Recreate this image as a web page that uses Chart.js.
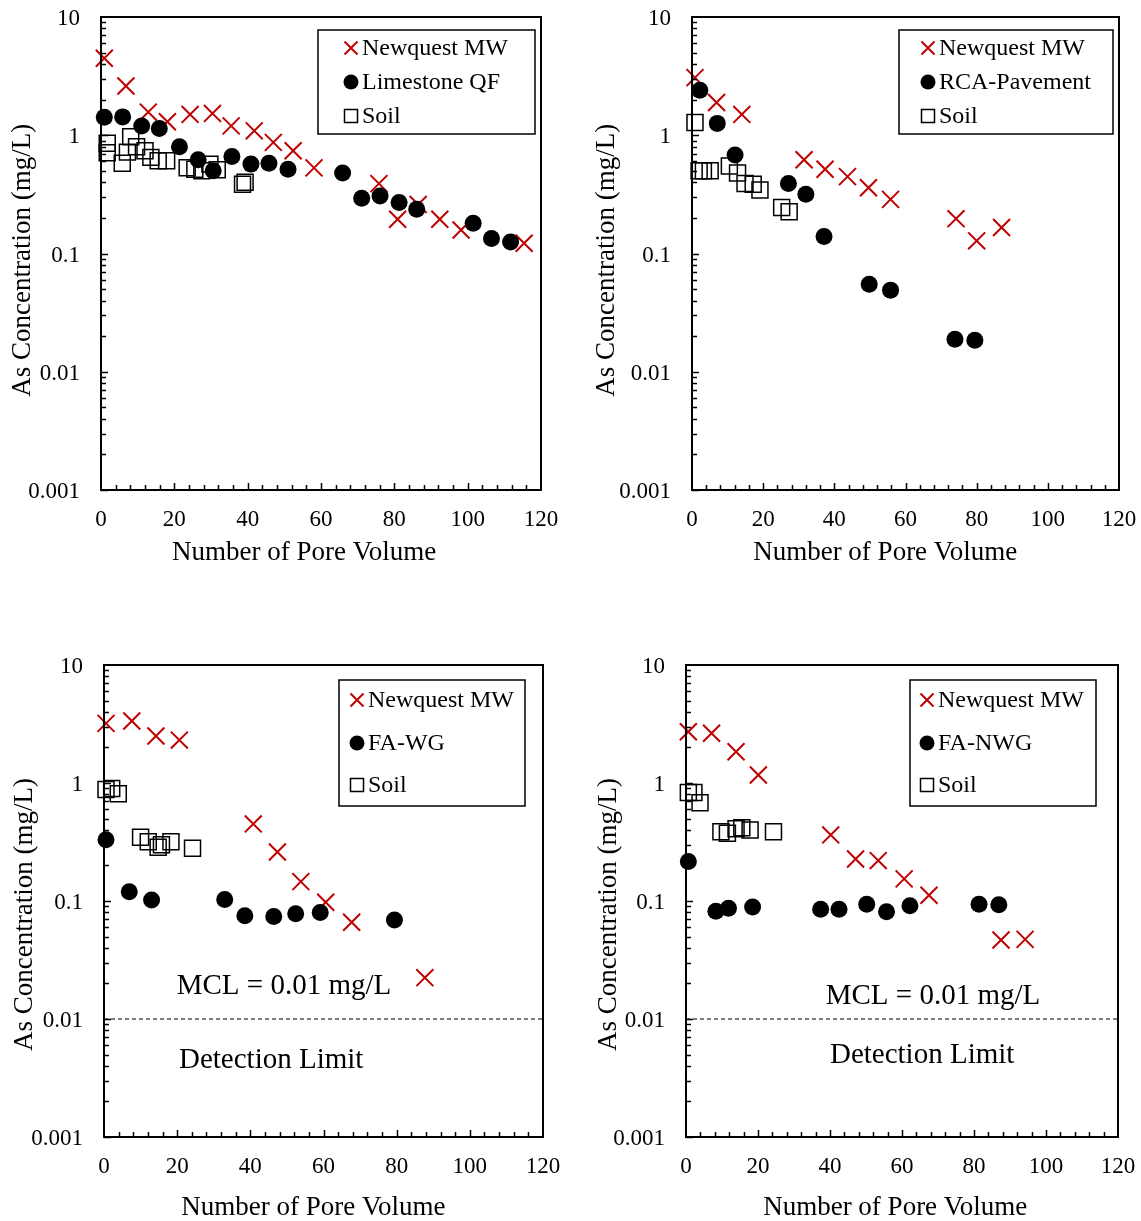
<!DOCTYPE html>
<html>
<head>
<meta charset="utf-8">
<script src="https://cdn.jsdelivr.net/npm/chart.js@4.4.1/dist/chart.umd.min.js"></script>
<style>
  body { margin: 0; background: #fff; width: 1141px; height: 1221px; position: relative; overflow: hidden; }
  canvas { position: absolute; }
</style>
</head>
<body>
<canvas id="pA" width="570" height="580" style="left:0;top:0"></canvas>
<canvas id="pB" width="557" height="580" style="left:584px;top:0"></canvas>
<canvas id="pC" width="570" height="581" style="left:0;top:640px"></canvas>
<canvas id="pD" width="557" height="581" style="left:584px;top:640px"></canvas>
<script>
// [pore volume, As mg/L] pairs for each column
var mwA = [[0.9, 4.48], [6.8, 2.61], [12.9, 1.57], [18.1, 1.30], [24.3, 1.50], [30.4, 1.53], [35.5, 1.20], [41.8, 1.09], [47.0, 0.87], [52.4, 0.74], [58.1, 0.53], [75.8, 0.39], [80.9, 0.195], [86.5, 0.26], [92.4, 0.195], [98.2, 0.158], [115.4, 0.122]];
var limestone = [[0.9, 1.42], [5.9, 1.43], [11.1, 1.20], [15.9, 1.14], [21.4, 0.80], [26.5, 0.62], [30.6, 0.50], [35.7, 0.66], [40.9, 0.57], [45.8, 0.58], [51.0, 0.516], [65.9, 0.48], [71.1, 0.293], [76.1, 0.307], [81.3, 0.27], [86.1, 0.237], [101.5, 0.18], [106.5, 0.134], [111.7, 0.125]];
var soilA = [[1.7, 0.855], [8.1, 0.97], [1.7, 0.71], [5.8, 0.58], [7.2, 0.72], [9.7, 0.80], [12.0, 0.74], [13.6, 0.65], [15.6, 0.61], [17.9, 0.61], [23.5, 0.53], [25.6, 0.516], [27.5, 0.50], [29.7, 0.57], [31.7, 0.51], [38.6, 0.385], [39.3, 0.40]];

var mwB = [[0.84, 3.07], [6.9, 1.89], [14.0, 1.50], [31.5, 0.62], [37.4, 0.516], [43.7, 0.447], [49.6, 0.36], [55.8, 0.287], [74.2, 0.197], [80.0, 0.128], [87.0, 0.166]];
var rca = [[2.2, 2.40], [7.1, 1.26], [12.1, 0.68], [27.1, 0.39], [32.0, 0.317], [37.1, 0.139], [49.8, 0.055], [55.8, 0.049], [73.9, 0.0188], [79.5, 0.0185]];
var soilB = [[0.84, 1.28], [2.0, 0.50], [3.2, 0.50], [5.1, 0.50], [10.5, 0.55], [12.8, 0.48], [14.9, 0.39], [17.2, 0.385], [19.1, 0.345], [25.2, 0.245], [27.3, 0.225]];

var mwC = [[0.55, 3.2], [7.6, 3.35], [14.2, 2.5], [20.6, 2.31], [40.8, 0.45], [47.4, 0.26], [53.8, 0.146], [60.6, 0.0975], [67.7, 0.066], [87.7, 0.0224]];
var faWG = [[0.55, 0.33], [6.9, 0.12], [13.0, 0.102], [33.0, 0.103], [38.5, 0.075], [46.4, 0.074], [52.4, 0.078], [59.1, 0.080], [79.4, 0.069]];
var soilC = [[0.55, 0.88], [2.1, 0.90], [3.9, 0.81], [10.0, 0.347], [12.1, 0.318], [14.8, 0.285], [15.7, 0.30], [18.3, 0.318], [24.2, 0.28]];

var mwD = [[0.65, 2.72], [7.1, 2.64], [13.9, 1.84], [20.1, 1.17], [40.2, 0.363], [47.1, 0.227], [53.4, 0.22], [60.6, 0.154], [67.5, 0.112], [87.5, 0.0467], [94.2, 0.0473]];
var faNWG = [[0.65, 0.216], [8.3, 0.082], [11.8, 0.087], [18.5, 0.089], [37.4, 0.085], [42.5, 0.085], [50.2, 0.094], [55.7, 0.081], [62.2, 0.091], [81.4, 0.094], [86.9, 0.093]];
var soilD = [[0.65, 0.83], [2.2, 0.83], [3.9, 0.68], [9.7, 0.387], [11.5, 0.375], [13.9, 0.41], [15.5, 0.418], [17.8, 0.40], [24.3, 0.387]];

var mcl = 0.01;
var xTicks = [0, 20, 40, 60, 80, 100, 120];
var yTicks = [0.001, 0.01, 0.1, 1, 10];

var RED = '#c00000';
var SERIF = '"Liberation Serif", "Times New Roman", serif';
Chart.defaults.font.family = SERIF;
Chart.defaults.color = '#000';

function pts(arr) {
  return arr.map(function (p) { return { x: p[0], y: p[1] }; });
}

// trailing blanks nudge a centred axis title off the middle
function pad(text, n) {
  return text + new Array(n + 1).join(' ');
}

function marker(ctx, style, x, y) {
  ctx.beginPath();
  if (style === 'crossRot') {
    ctx.strokeStyle = RED; ctx.lineWidth = 2;
    ctx.moveTo(x - 6.5, y - 6.5); ctx.lineTo(x + 6.5, y + 6.5);
    ctx.moveTo(x + 6.5, y - 6.5); ctx.lineTo(x - 6.5, y + 6.5);
    ctx.stroke();
  } else if (style === 'circle') {
    ctx.fillStyle = '#000';
    ctx.arc(x, y, 7.5, 0, Math.PI * 2);
    ctx.fill();
  } else {
    ctx.strokeStyle = '#000'; ctx.lineWidth = 1.5;
    ctx.rect(x - 6.5, y - 6.5, 13, 13);
    ctx.stroke();
  }
}

// box round the plot, inward ticks, boxed legend and text notes
var framePlugin = {
  id: 'frame',
  afterDraw: function (chart, args, opts) {
    var ctx = chart.ctx, a = chart.chartArea;
    var xs = chart.scales.x, ys = chart.scales.y;
    ctx.save();
    ctx.strokeStyle = '#000';
    ctx.lineWidth = 2;
    ctx.strokeRect(a.left, a.top, a.right - a.left, a.bottom - a.top);

    ctx.lineWidth = 1.5;
    ctx.beginPath();
    for (var e = -3; e < 1; e++) {
      for (var k = 1; k < 10; k++) {
        var py = Math.round(ys.getPixelForValue(k * Math.pow(10, e))) + 0.5;
        ctx.moveTo(a.left, py);
        ctx.lineTo(a.left + (k === 1 ? 7 : 5), py);
      }
    }
    for (var v = 4; v < 120; v += 4) {
      var px = Math.round(xs.getPixelForValue(v)) + 0.5;
      ctx.moveTo(px, a.bottom);
      ctx.lineTo(px, a.bottom - (v % 20 === 0 ? 7 : 5));
    }
    ctx.stroke();

    var lg = opts.legend;
    var bx = a.right - lg.right - lg.w, by = a.top + lg.top;
    ctx.fillStyle = '#fff';
    ctx.fillRect(bx, by, lg.w, lg.h);
    ctx.strokeStyle = '#000';
    ctx.lineWidth = 1.5;
    ctx.strokeRect(bx, by, lg.w, lg.h);
    ctx.font = '24px ' + SERIF;
    ctx.textBaseline = 'middle';
    ctx.textAlign = 'left';
    var i = 0;
    chart.data.datasets.forEach(function (ds) {
      if (!ds.label || ds.noLegend) return;
      var ry = by + lg.rows[i++];
      marker(ctx, ds.pointStyle, bx + lg.mx, ry);
      ctx.fillStyle = '#000';
      ctx.fillText(ds.label, bx + lg.tx, ry + 1);
    });

    ctx.font = '29px ' + SERIF;
    ctx.textAlign = 'center';
    ctx.fillStyle = '#000';
    (opts.notes || []).forEach(function (n) {
      ctx.fillText(n.text, xs.getPixelForValue(n.x), ys.getPixelForValue(n.y));
    });
    ctx.restore();
  }
};

function makePanel(id, p) {
  var datasets = [
    { label: 'Newquest MW', data: pts(p.mw), pointStyle: 'crossRot', pointRadius: 12, borderColor: RED, borderWidth: 2, order: 1 },
    { label: p.name, data: pts(p.material), pointStyle: 'circle', pointRadius: 8.5, backgroundColor: '#000', borderColor: '#000', borderWidth: 0, order: 0 },
    { label: 'Soil', data: pts(p.soil), pointStyle: 'rect', pointRadius: 11.3, backgroundColor: 'rgba(0,0,0,0)', borderColor: '#000', borderWidth: 1.5, order: 2 }
  ];
  if (p.showMcl) {
    datasets.push({ type: 'line', label: 'MCL', noLegend: true, data: [{ x: 0, y: mcl }, { x: 120, y: mcl }],
      borderColor: '#000', borderWidth: 1.2, borderDash: [4, 3], pointRadius: 0, order: 3 });
  }
  datasets.forEach(function (d) { d.clip = false; });

  return new Chart(document.getElementById(id), {
    type: 'scatter',
    data: { datasets: datasets },
    options: {
      responsive: false,
      animation: false,
      events: [],
      layout: { autoPadding: false, padding: { left: 0, top: p.top, right: p.right, bottom: 0 } },
      plugins: {
        legend: { display: false },
        tooltip: { enabled: false },
        frame: { legend: p.legend, notes: p.notes }
      },
      scales: {
        x: {
          type: 'linear', min: 0, max: 120,
          afterBuildTicks: function (s) { s.ticks = xTicks.map(function (v) { return { value: v }; }); },
          afterFit: function (s) { s.height = p.xh; s.paddingLeft = 0; s.paddingRight = 0; },
          ticks: { font: { size: 23 }, padding: 16, maxRotation: 0 },
          grid: { display: false, drawTicks: false },
          border: { display: false },
          title: { display: true, text: pad('Number of Pore Volume', p.xShift), font: { size: 27, lineHeight: 1 }, padding: { top: 0, bottom: p.xtPad } }
        },
        y: {
          type: 'logarithmic', min: 0.001, max: 10,
          afterBuildTicks: function (s) { s.ticks = yTicks.map(function (v) { return { value: v }; }); },
          afterFit: function (s) { s.width = p.yw; s.paddingTop = 0; s.paddingBottom = 0; },
          ticks: { font: { size: 23 }, padding: 21, labelOffset: 2, callback: function (v) { return String(v); } },
          grid: { display: false, drawTicks: false },
          border: { display: false },
          title: { display: true, text: pad('As Concentration (mg/L)', p.yShift), font: { size: 27, lineHeight: 1 }, padding: { top: p.ytPad, bottom: 0 } }
        }
      }
    },
    plugins: [framePlugin]
  });
}

makePanel('pA', {
  mw: mwA, material: limestone, soil: soilA, name: 'Limestone QF',
  top: 17, right: 29, yw: 101, xh: 90, xtPad: 14, ytPad: 9, xShift: 5, yShift: 2,
  legend: { right: 6, top: 13, w: 217, h: 104, rows: [18, 52, 86], mx: 33, tx: 44 }
});
makePanel('pB', {
  mw: mwB, material: rca, soil: soilB, name: 'RCA-Pavement',
  top: 17, right: 22, yw: 108, xh: 90, xtPad: 14, ytPad: 9, xShift: 6, yShift: 2,
  legend: { right: 6, top: 13, w: 214, h: 104, rows: [18, 52, 86], mx: 29, tx: 40 }
});
makePanel('pC', {
  mw: mwC, material: faWG, soil: soilC, name: 'FA-WG', showMcl: true,
  top: 25, right: 27, yw: 104, xh: 84, xtPad: 0, ytPad: 11, xShift: 3, yShift: 4,
  legend: { right: 18, top: 15, w: 186, h: 126, rows: [20, 63, 105], mx: 18, tx: 29 },
  notes: [{ text: 'MCL = 0.01 mg/L', x: 49.2, y: 0.019 }, { text: 'Detection Limit', x: 45.7, y: 0.0045 }]
});
makePanel('pD', {
  mw: mwD, material: faNWG, soil: soilD, name: 'FA-NWG', showMcl: true,
  top: 25, right: 23, yw: 102, xh: 84, xtPad: 0, ytPad: 11, xShift: 2, yShift: 4,
  legend: { right: 22, top: 15, w: 186, h: 126, rows: [20, 63, 105], mx: 17, tx: 28 },
  notes: [{ text: 'MCL = 0.01 mg/L', x: 68.6, y: 0.0154 }, { text: 'Detection Limit', x: 65.6, y: 0.00495 }]
});
</script>
</body>
</html>
